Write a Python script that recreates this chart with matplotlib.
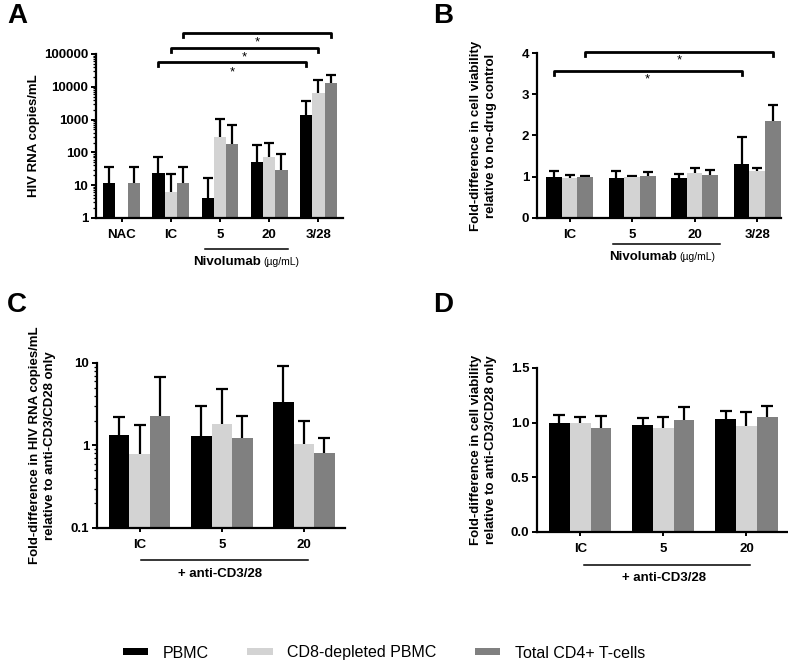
import numpy as np
import matplotlib
matplotlib.use("Agg")
from matplotlib import pyplot as plt
from matplotlib.patches import Patch
from matplotlib.ticker import LogLocator, NullFormatter, FixedLocator

plt.rcParams['font.family'] = ['Liberation Sans', 'DejaVu Sans']

series = ["PBMC", "CD8-depleted PBMC", "Total CD4+ T-cells"]
colors = ["#000000", "#d3d3d3", "#808080"]

# panel A: HIV RNA copies/mL (mean, top of error bar)
a_groups = ["NAC", "IC", "5", "20", "3/28"]
a_mean = [[12, 24, 4.2, 52, 1400],
          [np.nan, 6, 300, 70, 6300],
          [12, 12, 180, 30, 13000]]
a_top = [[37, 73, 17, 170, 3700],
         [np.nan, 22, 1050, 190, 16500],
         [37, 35, 680, 90, 23000]]

# panel B: fold-difference in cell viability vs no-drug control
b_groups = ["IC", "5", "20", "3/28"]
b_mean = [[1.0, 0.96, 0.97, 1.3],
          [0.97, 0.99, 1.08, 1.13],
          [1.0, 1.01, 1.04, 2.35]]
b_top = [[1.13, 1.14, 1.06, 1.96],
         [1.05, 1.03, 1.20, 1.20],
         [1.03, 1.12, 1.16, 2.75]]

# panel C: fold-difference in HIV RNA vs anti-CD3/CD28 only
c_groups = ["IC", "5", "20"]
c_mean = [[1.35, 1.3, 3.4],
          [0.78, 1.8, 1.05],
          [2.3, 1.25, 0.8]]
c_top = [[2.2, 3.0, 9.3],
         [1.75, 4.8, 2.0],
         [6.8, 2.25, 1.25]]

# panel D: fold-difference in cell viability vs anti-CD3/CD28 only
d_groups = ["IC", "5", "20"]
d_mean = [[1.0, 0.975, 1.035],
          [1.0, 0.95, 0.965],
          [0.955, 1.02, 1.055]]
d_top = [[1.07, 1.04, 1.11],
         [1.05, 1.055, 1.10],
         [1.06, 1.145, 1.155]]

W, H = 788, 663
fig = plt.figure(figsize=(W / 100, H / 100), dpi=100)


def px_axes(l, r, t, b):
    return fig.add_axes([l / W, 1 - b / H, (r - l) / W, (b - t) / H])


def bars(ax, groups, mean, top, capw):
    x = np.arange(len(groups))
    bw = 0.25
    for i in range(3):
        xi = x + (i - 1) * bw
        m = np.array(mean[i], dtype=float)
        t = np.array(top[i], dtype=float)
        ax.vlines(xi, m, t, color="black", lw=1.6, zorder=1)
        ax.plot(xi, t, ls="none", marker="_", ms=capw, mew=1.6, color="black", zorder=1)
        ax.bar(xi, m, width=bw, color=colors[i], zorder=2)
    ax.set_xticks(x)
    ax.set_xticklabels(groups)
    ax.set_xlim(-0.52, len(groups) - 0.5)
    for s in ["top", "right"]:
        ax.spines[s].set_visible(False)
    for s in ["left", "bottom"]:
        ax.spines[s].set_linewidth(1.6)
    ax.tick_params(axis="both", which="major", length=3.5, width=1.4, labelsize=9.5, pad=2)
    ax.tick_params(axis="x", length=3, pad=5)
    ax.tick_params(axis="both", which="minor", length=2, width=0.9)
    for lab in ax.get_xticklabels() + ax.get_yticklabels():
        lab.set_fontweight("bold")


def bracket(ax, x0, x1, y, yd, ys):
    ax.plot([x0, x0, x1, x1], [yd, y, y, yd], color="black", lw=2, clip_on=False)
    ax.text((x0 + x1) / 2, ys, "*", ha="center", va="center", fontsize=9.5, clip_on=False)


def group_line(ax, x0, x1, yl):
    tr = ax.get_xaxis_transform()
    ax.plot([x0, x1], [yl, yl], color="black", lw=1.1, transform=tr, clip_on=False)


# ---- A
axA = px_axes(96, 343, 54, 218)
bars(axA, a_groups, a_mean, a_top, 6.5)
axA.set_yscale("log")
axA.set_ylim(1, 100000)
axA.yaxis.set_major_locator(FixedLocator([1, 10, 100, 1000, 10000, 100000]))
axA.set_yticklabels(["1", "10", "100", "1000", "10000", "100000"], fontweight="bold")
axA.yaxis.set_minor_locator(LogLocator(base=10, subs=np.arange(2, 10)))
axA.yaxis.set_minor_formatter(NullFormatter())
axA.set_ylabel("HIV RNA copies/mL", fontsize=9.5, fontweight="bold")
axA.yaxis.set_label_coords(-0.225, 0.5)
bracket(axA, 0.75, 3.75, 10**4.76, 10**4.63, 10**4.45)
bracket(axA, 1.0, 4.0, 10**5.18, 10**5.06, 10**4.9)
bracket(axA, 1.25, 4.25, 10**5.64, 10**5.52, 10**5.36)
group_line(axA, 1.69, 3.39, -0.189)
trA = axA.get_xaxis_transform()
axA.text(2.84, -0.27, "Nivolumab", transform=trA, ha="right", va="center",
         fontsize=9.5, fontweight="bold")
axA.text(2.88, -0.27, "(µg/mL)", transform=trA, ha="left", va="center", fontsize=7.5)

# ---- B
axB = px_axes(537, 781, 53, 218)
bars(axB, b_groups, b_mean, b_top, 7.5)
axB.set_ylim(0, 4)
axB.set_yticks([0, 1, 2, 3, 4])
axB.set_yticklabels(["0", "1", "2", "3", "4"], fontweight="bold")
axB.set_xlim(-0.52, 3.38)
axB.set_ylabel("Fold-difference in cell viability\nrelative to no-drug control",
               fontsize=9.5, fontweight="bold", linespacing=1.3)
axB.yaxis.set_label_coords(-0.165, 0.5)
bracket(axB, -0.25, 2.75, 3.56, 3.46, 3.35)
bracket(axB, 0.25, 3.25, 4.02, 3.92, 3.82)
group_line(axB, 0.70, 2.40, -0.158)
trB = axB.get_xaxis_transform()
axB.text(1.71, -0.236, "Nivolumab", transform=trB, ha="right", va="center",
         fontsize=9.5, fontweight="bold")
axB.text(1.75, -0.236, "(µg/mL)", transform=trB, ha="left", va="center", fontsize=7.5)

# ---- C
axC = px_axes(97, 345, 363, 528)
bars(axC, c_groups, c_mean, c_top, 8)
axC.set_yscale("log")
axC.set_ylim(0.1, 10)
axC.yaxis.set_major_locator(FixedLocator([0.1, 1, 10]))
axC.set_yticklabels(["0.1", "1", "10"], fontweight="bold")
axC.yaxis.set_minor_locator(LogLocator(base=10, subs=np.arange(2, 10)))
axC.yaxis.set_minor_formatter(NullFormatter())
axC.set_ylabel("Fold-difference in HIV RNA copies/mL\nrelative to anti-CD3/CD28 only",
               fontsize=9.5, fontweight="bold", linespacing=1.3)
axC.yaxis.set_label_coords(-0.165, 0.5)
group_line(axC, 0.01, 2.05, -0.194)
axC.text(0.98, -0.279, "+ anti-CD3/28", transform=axC.get_xaxis_transform(),
         ha="center", va="center", fontsize=9.5, fontweight="bold")

# ---- D
axD = px_axes(537, 788, 368, 532)
bars(axD, d_groups, d_mean, d_top, 8)
axD.set_ylim(0, 1.5)
axD.set_yticks([0, 0.5, 1.0, 1.5])
axD.set_yticklabels(["0.0", "0.5", "1.0", "1.5"], fontweight="bold")
axD.set_ylabel("Fold-difference in cell viability\nrelative to anti-CD3/CD28 only",
               fontsize=9.5, fontweight="bold", linespacing=1.3)
axD.yaxis.set_label_coords(-0.16, 0.5)
group_line(axD, 0.04, 2.04, -0.20)
axD.text(1.01, -0.28, "+ anti-CD3/28", transform=axD.get_xaxis_transform(),
         ha="center", va="center", fontsize=9.5, fontweight="bold")

# panel letters
for letter, (x, y) in zip("ABCD", [(7, 3), (433, 3), (7, 292), (433, 292)]):
    fig.text(x / W, 1 - y / H, letter, fontsize=20, fontweight="bold", ha="left", va="top")

handles = [Patch(facecolor=c, edgecolor="none") for c in colors]
fig.legend(handles, series, loc="center", bbox_to_anchor=(0.487, 1 - 653 / H), ncol=3,
           frameon=False, fontsize=11.5, handlelength=1.6, handleheight=0.3,
           handletextpad=0.9, columnspacing=2.4)

fig.savefig("out.png", dpi=100)
